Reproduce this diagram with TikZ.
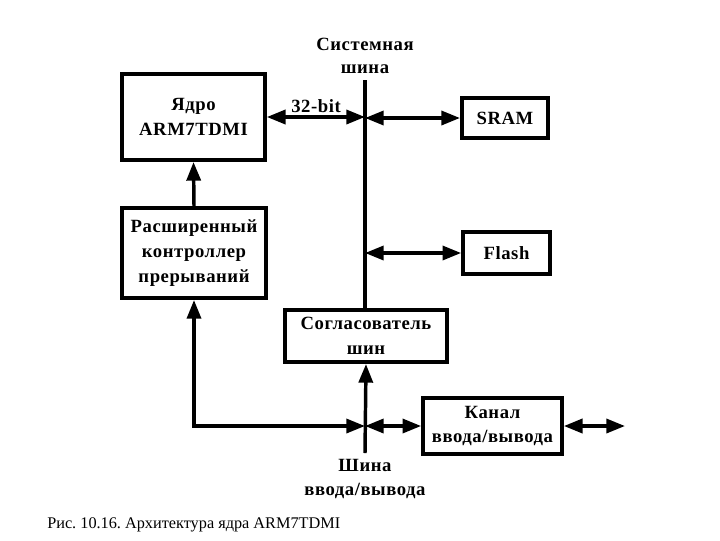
\documentclass[tikz,border=0pt]{standalone}
\usepackage{fontspec}
\setmainfont{Liberation Serif}
\newfontfamily\diafont[LetterSpace=3]{Liberation Serif}
\usetikzlibrary{arrows.meta}
\frenchspacing
\begin{document}
\begin{tikzpicture}[x=0.75pt,y=-0.75pt,
  blk/.style={draw,line width=3pt,inner sep=0pt,align=center,
    font=\diafont\bfseries\fontsize{14}{18.5}\selectfont},
  lbl/.style={inner sep=0pt,align=center,font=\diafont\bfseries\fontsize{14}{17.5}\selectfont},
  conn/.style={line width=2.6pt},
  tip/.style={-{Triangle[length=14pt,width=10.5pt]}},
  tips/.style={{Triangle[length=14pt,width=10.5pt]}-{Triangle[length=14pt,width=10.5pt]}}]
\useasboundingbox (0,0) rectangle (720,540);
\node[blk,minimum width=107pt,minimum height=64.5pt] (core) at (193.5,117) {Ядро\\ARM7TDMI};
\node[blk,minimum width=108pt,minimum height=67.5pt] (ctrl) at (194,253) {Расширенный\\контроллер\\прерываний};
\node[blk,minimum width=64.5pt,minimum height=30pt] (sram) at (505,118) {SRAM};
\node[blk,minimum width=65pt,minimum height=31.5pt] (flash) at (506.5,253) {Flash};
\node[blk,minimum width=121.5pt,minimum height=39pt] (arb) at (366,336) {Согласователь\\шин};
\node[blk,minimum width=104pt,minimum height=42pt] (chan) at (492.5,426) {Канал\\ввода/вывода};
\coordinate (bustop) at (365,80);
\coordinate (iobot) at (365,453);
\coordinate (iojoin) at (365,426);
\coordinate (outend) at (625,426);
\node[lbl] (sysbus) at (365,56) {Системная\\шина};
\node[lbl] (iobus) at (365,479) {Шина\\ввода/вывода};
\node[lbl,anchor=south] (bits) at (316,113) {32-bit};
\node[anchor=west,inner sep=0pt,font=\fontsize{12.2}{14}\selectfont] (cap) at (47,525) {Рис. 10.16. Архитектура ядра ARM7TDMI};
% system bus
\draw[conn,line width=3pt] (bustop) -- (bustop |- arb.north);
\draw[conn,tips] (core.east) -- (core.east -| bustop);
\draw[conn,tips] (bustop |- sram.west) -- (sram.west);
\draw[conn,tips] (bustop |- flash.west) -- (flash.west);
\draw[conn,tip] (ctrl.north) -- (core.south);
% io bus
\draw[conn,tip] (iobot) -- (arb.south);
\draw[conn,tips] (ctrl.south) -- (iojoin -| ctrl.south) -- (iojoin);
\draw[conn,tips] (iojoin) -- (chan.west);
\draw[conn,tips] (chan.east) -- (outend);
\end{tikzpicture}
\end{document}
